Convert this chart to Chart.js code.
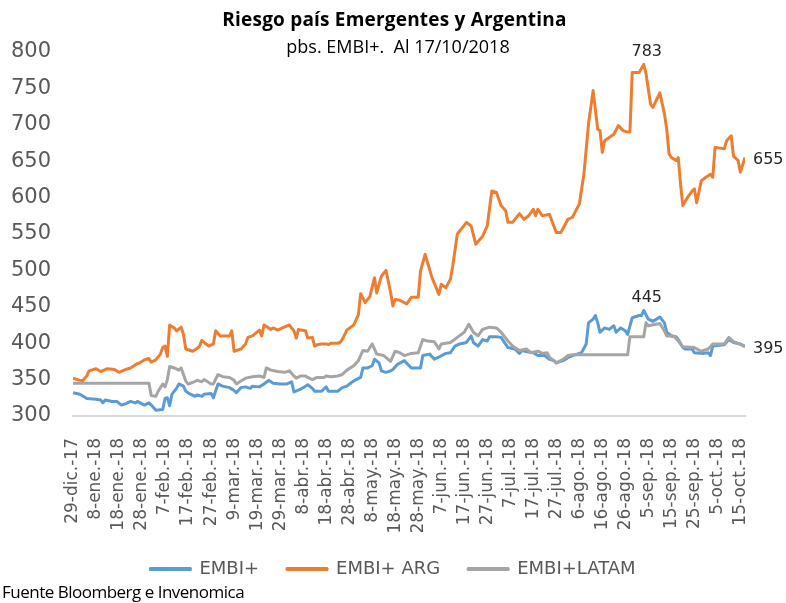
<!DOCTYPE html>
<html>
<head>
<meta charset="utf-8">
<script src="https://cdn.jsdelivr.net/npm/chart.js@4/dist/chart.umd.min.js"></script>
<style>
  html, body { margin: 0; padding: 0; background: #fff; }
  #wrap { position: relative; width: 786px; height: 603px; }
  #title { position: absolute; left: 0; width: 789px; top: 6px; text-align: center;
           font: bold 19px "Open Sans"; letter-spacing: 0.2px; color: #000; }
  #subtitle { position: absolute; left: 0; width: 796px; top: 34px; text-align: center;
              font: 18px "Open Sans"; color: #000; }
  #source { position: absolute; left: 2px; top: 580px; font: 17px "Open Sans";
            letter-spacing: -0.5px; color: #000; }
  canvas { position: absolute; left: 0; top: 0; }
</style>
</head>
<body>
<div id="wrap">
  <canvas id="chart" width="786" height="603"></canvas>
  <div id="title">Riesgo país Emergentes y Argentina</div>
  <div id="subtitle">pbs. EMBI+.&nbsp; Al 17/10/2018</div>
  <div id="source">Fuente Bloomberg e Invenomica</div>
</div>
<script>
// days counted from 29-dic-17 (day 0) up to 17-oct-18 (day 292)
const xTickLabels = ['29-dic.-17', '8-ene.-18', '18-ene.-18', '28-ene.-18', '7-feb.-18',
  '17-feb.-18', '27-feb.-18', '9-mar.-18', '19-mar.-18', '29-mar.-18', '8-abr.-18',
  '18-abr.-18', '28-abr.-18', '8-may.-18', '18-may.-18', '28-may.-18', '7-jun.-18',
  '17-jun.-18', '27-jun.-18', '7-jul.-18', '17-jul.-18', '27-jul.-18', '6-ago.-18',
  '16-ago.-18', '26-ago.-18', '5-sep.-18', '15-sep.-18', '25-sep.-18', '5-oct.-18', '15-oct.-18'];

const seriesNames = ['EMBI+', 'EMBI+ ARG', 'EMBI+LATAM'];

// EMBI+ ARG
const argDays = [0, 4, 6, 7, 10, 12, 15, 18, 20, 23, 25, 28, 29, 31, 33, 34, 36, 38, 39, 40,
  41, 42, 44, 45, 47, 48, 49, 52, 54, 55, 56, 57, 59, 61, 62, 64, 68, 69, 70, 73,
  75, 76, 78, 81, 82, 83, 86, 87, 89, 91, 94, 96, 97, 98, 99, 101, 102, 104, 105, 106,
  108, 110, 111, 112, 115, 116, 117, 119, 122, 124, 125, 127, 129, 131, 132, 134, 136, 138, 139, 140,
  142, 145, 147, 150, 151, 153, 156, 159, 160, 162, 164, 165, 167, 171, 173, 175, 178, 180, 182, 184,
  186, 188, 189, 191, 194, 196, 198, 200, 201, 202, 204, 207, 210, 212, 215, 217, 220, 222, 224, 226,
  228, 229, 230, 231, 235, 237, 239, 241, 242, 243, 246, 248, 249, 251, 252, 255, 257, 258, 259, 260,
  262, 263, 264, 265, 267, 269, 270, 271, 273, 275, 277, 278, 279, 283, 284, 286, 287, 289, 290, 292];
const argVals = [352, 348, 355, 362, 365, 361, 365, 364, 360, 364, 366, 372, 373, 377, 379, 374, 377, 385, 394, 396,
  382, 425, 421, 417, 422, 412, 392, 389, 393, 396, 404, 401, 396, 399, 417, 410, 410, 417, 389, 392,
  399, 408, 410, 418, 410, 425, 419, 421, 418, 421, 425, 417, 407, 419, 418, 417, 407, 408, 396, 398,
  399, 399, 398, 400, 400, 401, 405, 418, 425, 439, 468, 456, 464, 490, 469, 492, 500, 470, 451, 460,
  459, 454, 463, 463, 499, 522, 490, 467, 481, 476, 488, 506, 550, 566, 561, 536, 547, 561, 609, 607,
  589, 582, 566, 566, 578, 570, 575, 584, 575, 584, 575, 577, 552, 552, 570, 573, 591, 632, 701, 747,
  694, 692, 662, 678, 687, 699, 692, 690, 690, 772, 772, 783, 770, 728, 724, 744, 715, 694, 660, 655,
  651, 655, 618, 589, 600, 609, 612, 593, 623, 628, 632, 628, 669, 667, 678, 685, 657, 651, 635, 655];

// EMBI+
const embiDays = [0, 3, 6, 10, 12, 13, 14, 17, 19, 21, 23, 25, 27, 28, 31, 33, 34, 36, 39, 40,
  41, 42, 43, 45, 46, 48, 49, 51, 53, 54, 56, 57, 60, 61, 63, 65, 68, 70, 71, 73,
  75, 77, 78, 81, 83, 85, 87, 90, 93, 95, 96, 99, 101, 102, 104, 105, 108, 110, 111, 115,
  117, 119, 121, 123, 125, 126, 128, 130, 131, 133, 134, 136, 138, 139, 141, 144, 147, 151, 152, 155,
  157, 159, 162, 164, 166, 168, 171, 173, 174, 176, 178, 180, 181, 184, 186, 189, 192, 194, 195, 198,
  200, 202, 205, 207, 209, 210, 213, 215, 217, 219, 221, 223, 224, 226, 227, 228, 229, 231, 233, 235,
  236, 238, 240, 241, 243, 246, 247, 248, 250, 252, 255, 257, 258, 260, 262, 263, 265, 266, 269, 270,
  274, 276, 277, 278, 283, 285, 287, 290, 292];
const embiVals = [332, 330, 324, 323, 322, 318, 322, 320, 320, 315, 317, 320, 318, 320, 315, 318, 315, 308, 309, 324,
  325, 314, 330, 338, 344, 341, 334, 330, 327, 329, 327, 330, 331, 325, 344, 341, 339, 335, 332, 339,
  340, 338, 341, 340, 344, 349, 345, 344, 344, 347, 333, 337, 341, 343, 338, 334, 334, 340, 334, 334,
  339, 341, 346, 350, 353, 366, 366, 369, 378, 373, 362, 360, 362, 364, 371, 376, 366, 366, 383, 385,
  378, 381, 386, 387, 396, 399, 401, 410, 401, 396, 405, 403, 409, 409, 408, 394, 392, 386, 390, 388,
  387, 383, 383, 378, 376, 373, 376, 380, 383, 385, 387, 399, 428, 433, 438, 428, 415, 421, 419, 424,
  415, 421, 417, 412, 435, 438, 438, 445, 433, 430, 436, 428, 415, 410, 409, 405, 394, 392, 392, 387,
  386, 387, 383, 396, 398, 405, 401, 399, 395];

// EMBI+LATAM
const latamDays = [0, 33, 34, 36, 37, 39, 40, 41, 42, 44, 46, 47, 49, 50, 52, 54, 56, 57, 60, 61,
  63, 65, 68, 70, 71, 73, 75, 78, 81, 83, 84, 86, 89, 92, 94, 96, 97, 99, 101, 102,
  104, 106, 109, 110, 112, 115, 117, 119, 122, 124, 126, 128, 130, 132, 135, 138, 140, 142, 144, 147,
  150, 152, 154, 157, 159, 160, 164, 167, 170, 172, 174, 176, 178, 181, 184, 186, 189, 191, 194, 197,
  199, 202, 204, 206, 207, 210, 213, 215, 217, 241, 242, 248, 249, 250, 255, 257, 258, 261, 263, 265,
  270, 273, 276, 278, 283, 285, 287, 292];
const latamVals = [345, 345, 328, 327, 334, 344, 340, 350, 368, 366, 363, 366, 348, 344, 346, 349, 347, 350, 344, 344,
  357, 354, 353, 349, 344, 348, 352, 354, 355, 353, 366, 363, 361, 360, 362, 355, 352, 355, 355, 353,
  350, 353, 353, 355, 354, 355, 357, 363, 369, 376, 390, 389, 399, 385, 383, 375, 389, 387, 383, 386,
  387, 405, 403, 402, 392, 399, 401, 408, 415, 426, 415, 410, 419, 422, 421, 415, 403, 396, 390, 392,
  387, 389, 386, 387, 381, 373, 378, 383, 384, 384, 409, 409, 428, 424, 427, 417, 410, 410, 403, 395,
  394, 389, 392, 399, 399, 408, 402, 396];

const yTicks = { min: 300, max: 800, step: 50 };
const colors = ['#5b9bd5', '#ed7d31', '#a5a5a5'];

function toPoints(days, vals) {
  return days.map((d, i) => ({ x: d, y: vals[i] }));
}

// value labels: peaks and last values
const valueLabels = {
  id: 'valueLabels',
  afterDatasetsDraw(chart) {
    const { ctx } = chart;
    const x = chart.scales.x, y = chart.scales.y;
    ctx.save();
    ctx.font = '16px "DejaVu Sans"';
    ctx.fillStyle = '#262626';

    ctx.textAlign = 'center';
    ctx.textBaseline = 'bottom';
    [[argDays, argVals], [embiDays, embiVals]].forEach(([days, vals]) => {
      const top = Math.max(...vals);
      const i = vals.indexOf(top);
      ctx.fillText(top, x.getPixelForValue(days[i]) + 3, y.getPixelForValue(top) - 5);
    });

    ctx.textAlign = 'left';
    ctx.textBaseline = 'middle';
    [[argDays, argVals], [embiDays, embiVals]].forEach(([days, vals]) => {
      const n = vals.length - 1;
      ctx.fillText(vals[n], x.getPixelForValue(days[n]) + 8, y.getPixelForValue(vals[n]) + 2);
    });
    ctx.restore();
  }
};

const ctx = document.getElementById('chart').getContext('2d');
const myChart = new Chart(ctx, {
  type: 'line',
  data: {
    datasets: [
      { label: seriesNames[0], data: toPoints(embiDays, embiVals), order: 3 },
      { label: seriesNames[1], data: toPoints(argDays, argVals), order: 2 },
      { label: seriesNames[2], data: toPoints(latamDays, latamVals), order: 1 }
    ].map((ds, i) => Object.assign(ds, {
      borderColor: colors[i],
      backgroundColor: colors[i],
      borderWidth: 3,
      pointRadius: 0,
      tension: 0,
      fill: false,
      borderJoinStyle: 'round'
    }))
  },
  options: {
    responsive: false,
    animation: false,
    devicePixelRatio: 1,
    layout: { padding: { top: 52, right: 0, bottom: 15, left: 0 } },
    plugins: {
      tooltip: { enabled: false },
      legend: {
        position: 'bottom',
        labels: {
          boxWidth: 40,
          boxHeight: 1,
          padding: 28,
          color: '#595959',
          font: { family: 'DejaVu Sans', size: 18 },
          sort: (a, b) => a.datasetIndex - b.datasetIndex
        }
      }
    },
    scales: {
      x: {
        type: 'linear',
        min: 0,
        max: 292,
        afterFit: s => { s.height = 116; },
        grid: { display: false },
        border: { display: true, color: '#d9d9d9', width: 2 },
        ticks: {
          stepSize: 10,
          includeBounds: false,
          autoSkip: false,
          maxRotation: 90,
          minRotation: 90,
          padding: 14,
          color: '#595959',
          font: { family: 'DejaVu Sans', size: 17 },
          callback: v => (Math.round(v) % 10 === 0 ? xTickLabels[Math.round(v) / 10] : '')
        }
      },
      y: {
        min: yTicks.min,
        max: yTicks.max,
        afterFit: s => { s.width = 73; },
        grid: { display: false },
        border: { display: false },
        ticks: {
          stepSize: yTicks.step,
          padding: 14,
          color: '#595959',
          font: { family: 'DejaVu Sans', size: 21 }
        }
      },
      yRight: {
        position: 'right',
        display: true,
        afterFit: s => { s.width = 41; },
        grid: { display: false },
        border: { display: false },
        ticks: { display: false }
      }
    }
  },
  plugins: [valueLabels]
});
</script>
</body>
</html>
